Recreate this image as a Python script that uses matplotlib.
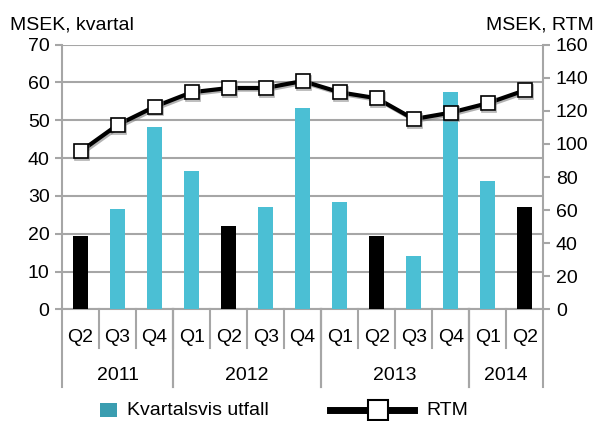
import numpy as np
import matplotlib
matplotlib.use("Agg")
import matplotlib.pyplot as plt
from matplotlib.patches import Rectangle
from matplotlib.lines import Line2D
import matplotlib.transforms as mtransforms
import matplotlib.patheffects as pe

plt.rcParams['font.family'] = ['Liberation Sans', 'DejaVu Sans']

quarters = ['Q2', 'Q3', 'Q4', 'Q1', 'Q2', 'Q3', 'Q4', 'Q1', 'Q2', 'Q3', 'Q4', 'Q1', 'Q2']
years = ['2011', '2012', '2013', '2014']
year_counts = [3, 4, 4, 2]
kvartal = [19.4, 26.5, 48.2, 36.7, 22.0, 27.1, 53.2, 28.4, 19.3, 14.0, 57.4, 34.0, 27.1]
rtm = [95.5, 111.5, 122.5, 131.2, 133.8, 133.8, 138.0, 131.2, 127.6, 115.0, 118.9, 124.6, 132.4]

cyan = '#4BBFD4'
grid_gray = '#A6A6A6'
fs = 14

fig = plt.figure(figsize=(5.97, 4.21), dpi=100)
ax = fig.add_axes([0.104, 0.265, 0.806, 0.629])
ax2 = ax.twinx()

x = np.arange(len(quarters))
colors = ['black' if q == 'Q2' else cyan for q in quarters]
ax.bar(x, kvartal, width=0.4, color=colors, zorder=3)

ax.set_xlim(-0.5, len(quarters) - 0.5)
ax.set_ylim(0, 70)
ax.set_yticks(range(0, 71, 10))
ax.yaxis.grid(True, color=grid_gray, linewidth=1.5, zorder=0)
ax.set_axisbelow(True)
ax.set_xticks([])

# shadow under the markers
ax2.plot(x, rtm, color='black', linewidth=3, zorder=4, marker='s', markersize=10,
         markerfacecolor='white', markeredgecolor='black', markeredgewidth=1.2,
         path_effects=[pe.SimpleLineShadow(offset=(1.2, -1.2), shadow_color='gray', alpha=0.6),
                       pe.Normal()])
ax2.set_ylim(0, 160)
ax2.set_yticks(range(0, 161, 20))

for a in (ax, ax2):
    a.spines['top'].set_visible(False)
    for s in ('left', 'right', 'bottom'):
        a.spines[s].set_color(grid_gray)
        a.spines[s].set_linewidth(1.5)
    a.tick_params(axis='y', labelsize=fs, length=5, width=1.5, color=grid_gray, pad=4)
ax.spines['right'].set_visible(False)
ax2.spines['left'].set_visible(False)
ax2.spines['bottom'].set_visible(False)

# category axis: quarter labels, separators and year labels
trans = mtransforms.blended_transform_factory(ax.transData, ax.transAxes)
for i, q in enumerate(quarters):
    ax.text(i, -0.105, q, transform=trans, ha='center', va='center', fontsize=fs)
for b in range(1, len(quarters)):
    ax.plot([b - 0.5, b - 0.5], [0, -0.146], transform=trans, color=grid_gray,
            linewidth=1.5, clip_on=False)
start = 0
for yr, n in zip(years, year_counts):
    ax.text(start + n / 2 - 0.5, -0.25, yr, transform=trans, ha='center',
            va='center', fontsize=fs)
    for edge in (start - 0.5, start + n - 0.5):
        ax.plot([edge, edge], [0, -0.294], transform=trans, color=grid_gray,
                linewidth=1.5, clip_on=False)
    start += n

fig.text(0.017, 0.94, 'MSEK, kvartal', fontsize=fs, ha='left', va='center')
fig.text(0.995, 0.94, 'MSEK, RTM', fontsize=fs, ha='right', va='center')

# legend
fig.patches.append(Rectangle((0.168, 0.010), 0.028, 0.033, transform=fig.transFigure,
                             facecolor='#3A9DB0', edgecolor='none'))
fig.text(0.212, 0.024, 'Kvartalsvis utfall', fontsize=fs, ha='left', va='center')
fig.lines.append(Line2D([0.553, 0.694], [0.026, 0.026], transform=fig.transFigure,
                        color='black', linewidth=5))
fig.lines.append(Line2D([0.633], [0.026], transform=fig.transFigure, marker='s',
                        markersize=14, markerfacecolor='white', markeredgecolor='black',
                        markeredgewidth=1.5, linestyle='none'))
fig.text(0.715, 0.024, 'RTM', fontsize=fs, ha='left', va='center')

fig.savefig('out.png', dpi=100)
